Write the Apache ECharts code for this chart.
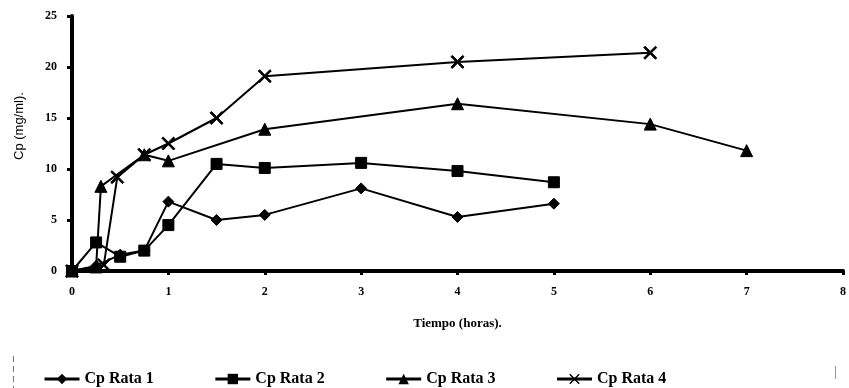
<!DOCTYPE html>
<html>
<head>
<meta charset="utf-8">
<script src="https://cdn.jsdelivr.net/npm/echarts@6/dist/echarts.min.js"></script>
<style>
  html, body { margin: 0; padding: 0; background: #fff; }
  #chart { width: 849px; height: 388px; }
</style>
</head>
<body>
<div id="chart"></div>
<script>
// Plasma concentration (Cp, mg/ml) over time (hours) for four rats
const rata1 = [[0, 0], [0.25, 0.5], [0.5, 1.6], [0.75, 2.0], [1, 6.8], [1.5, 5.0], [2, 5.5], [3, 8.1], [4, 5.3], [5, 6.6]];
const rata2 = [[0, 0], [0.25, 2.8], [0.5, 1.4], [0.75, 2.0], [1, 4.5], [1.5, 10.5], [2, 10.1], [3, 10.6], [4, 9.8], [5, 8.7]];
const rata3 = [[0, 0], [0.25, 0.4], [0.3, 8.3], [0.75, 11.4], [1, 10.8], [2, 13.9], [4, 16.4], [6, 14.4], [7, 11.8]];
const rata4 = [[0, 0], [0.33, 0.6], [0.47, 9.2], [0.75, 11.4], [1, 12.5], [1.5, 15.0], [2, 19.1], [4, 20.5], [6, 21.4]];
const seriesNames = ['Cp Rata 1', 'Cp Rata 2', 'Cp Rata 3', 'Cp Rata 4'];
const xTicks = [0, 1, 2, 3, 4, 5, 6, 7, 8];
const yTicks = [0, 5, 10, 15, 20, 25];

// thick "x" marker drawn as a filled outline
const crossPath = 'path://M0,1L1,0L5,4L9,0L10,1L6,5L10,9L9,10L5,6L1,10L0,9L4,5Z';
const serif = '"Liberation Serif", "DejaVu Serif", serif';

function lineSeries(name, data, symbol, size) {
  return {
    name: name,
    type: 'line',
    data: data,
    symbol: symbol,
    symbolSize: size,
    showAllSymbol: true,
    lineStyle: { color: '#000', width: 2 },
    itemStyle: { color: '#000', borderColor: '#000' },
    emphasis: { disabled: true },
    animation: false
  };
}

const chart = echarts.init(document.getElementById('chart'), null, { renderer: 'canvas' });
chart.setOption({
  backgroundColor: '#fff',
  animation: false,
  grid: { left: 72, right: 3, top: 16, bottom: 117, containLabel: false },
  xAxis: {
    type: 'value',
    min: xTicks[0],
    max: xTicks[xTicks.length - 1],
    interval: 1,
    name: 'Tiempo (horas).',
    nameLocation: 'middle',
    nameGap: 46,
    nameTextStyle: { fontFamily: serif, fontWeight: 'bold', fontSize: 13, color: '#000' },
    axisLine: { lineStyle: { color: '#000', width: 4 } },
    axisTick: { show: true, length: 4, lineStyle: { color: '#000', width: 3 } },
    axisLabel: { margin: 15, fontFamily: serif, fontWeight: 'bold', fontSize: 12, color: '#000' },
    splitLine: { show: false }
  },
  yAxis: {
    type: 'value',
    min: yTicks[0],
    max: yTicks[yTicks.length - 1],
    interval: 5,
    axisLine: { show: true, lineStyle: { color: '#000', width: 4 } },
    axisTick: { show: true, length: 5, lineStyle: { color: '#000', width: 3 } },
    axisLabel: { margin: 15, fontFamily: serif, fontWeight: 'bold', fontSize: 12, color: '#000' },
    splitLine: { show: false }
  },
  legend: {
    data: seriesNames,
    top: 366,
    left: 38,
    itemGap: 60,
    itemWidth: 35,
    itemHeight: 13,
    lineStyle: { width: 3 },
    textStyle: { fontFamily: serif, fontWeight: 'bold', fontSize: 16, color: '#000' }
  },
  graphic: [
    {
      type: 'text',
      rotation: Math.PI / 2,
      style: {
        text: 'Cp (mg/ml).',
        font: '13px "Liberation Sans", Arial, sans-serif',
        fill: '#000'
      },
      x: 13, y: 160
    },
    {
      type: 'line',
      shape: { x1: 13.5, y1: 356, x2: 13.5, y2: 388 },
      style: { stroke: '#777', lineWidth: 1, lineDash: [6, 4] },
      silent: true
    },
    {
      type: 'line',
      shape: { x1: 835.5, y1: 366, x2: 835.5, y2: 379 },
      style: { stroke: '#999', lineWidth: 1 },
      silent: true
    }
  ],
  series: [
    lineSeries(seriesNames[0], rata1, 'diamond', 11),
    lineSeries(seriesNames[1], rata2, 'rect', 11),
    lineSeries(seriesNames[2], rata3, 'triangle', 12),
    lineSeries(seriesNames[3], rata4, crossPath, 13)
  ]
});
</script>
</body>
</html>
